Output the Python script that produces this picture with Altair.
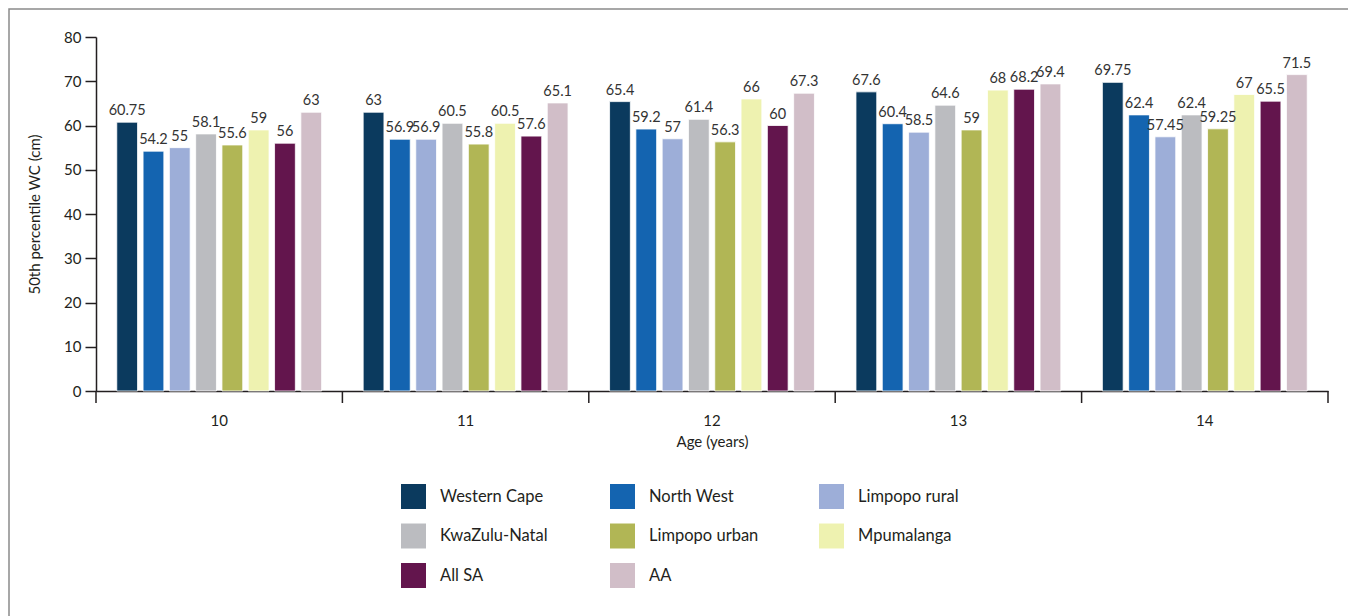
import altair as alt
import pandas as pd

ages = ["10", "11", "12", "13", "14"]
series = ["Western Cape", "North West", "Limpopo rural", "KwaZulu-Natal",
          "Limpopo urban", "Mpumalanga", "All SA", "AA"]
colors = ["#0b3a5e", "#1464b0", "#9daed8", "#bbbcc0",
          "#b1b655", "#eef2b0", "#63154d", "#d1bec8"]

western_cape = [60.75, 63, 65.4, 67.6, 69.75]
north_west = [54.2, 56.9, 59.2, 60.4, 62.4]
limpopo_rural = [55, 56.9, 57, 58.5, 57.45]
kwazulu_natal = [58.1, 60.5, 61.4, 64.6, 62.4]
limpopo_urban = [55.6, 55.8, 56.3, 59, 59.25]
mpumalanga = [59, 60.5, 66, 68, 67]
all_sa = [56, 57.6, 60, 68.2, 65.5]
aa = [63, 65.1, 67.3, 69.4, 71.5]

values = [western_cape, north_west, limpopo_rural, kwazulu_natal,
          limpopo_urban, mpumalanga, all_sa, aa]

rows = []
for s, vals in zip(series, values):
    for a, v in zip(ages, vals):
        rows.append({"age": a, "series": s, "value": v, "label": f"{v:g}"})
df = pd.DataFrame(rows)

W, H = 1232, 354
FONT = "Lato"
INK = "#231f20"

xscale = alt.Scale(domain=ages, paddingInner=0, paddingOuter=0)
offscale = alt.Scale(domain=series, paddingInner=0.21, paddingOuter=0.79)

base = alt.Chart(df)

bars = base.mark_bar(stroke="white", strokeWidth=0.8).encode(
    x=alt.X("age:N", scale=xscale, sort=ages,
            axis=alt.Axis(title="Age (years)", labelAngle=0, ticks=False,
                          labelPadding=22, labelFontSize=15, labelColor=INK,
                          titleFontSize=15, titleColor=INK, titleFontWeight="normal",
                          titlePadding=6, domainColor=INK, domainWidth=1.5)),
    xOffset=alt.XOffset("series:N", scale=offscale, sort=series),
    y=alt.Y("value:Q", scale=alt.Scale(domain=[0, 80], nice=False),
            axis=alt.Axis(title="50th percentile WC (cm)", values=list(range(0, 81, 10)),
                          grid=False, tickSize=11, tickColor=INK, tickWidth=1.5,
                          domainColor=INK, domainWidth=1.5, labelFontSize=15,
                          labelColor=INK, labelPadding=4, titleFontSize=15,
                          titleColor=INK, titleFontWeight="normal", titlePadding=21)),
    color=alt.Color("series:N", scale=alt.Scale(domain=series, range=colors),
                    sort=series,
                    legend=alt.Legend(title=None, orient="none", legendX=305, legendY=447,
                                      direction="horizontal",
                                      columns=3, symbolType="square", symbolSize=625,
                                      symbolStrokeWidth=0, labelFontSize=16.5,
                                      labelColor=INK, labelOffset=14, rowPadding=14.5,
                                      columnPadding=60, gridAlign="all", padding=0)),
)

labels = base.mark_text(baseline="bottom", dy=-4, fontSize=14.5, color="#333333").encode(
    x=alt.X("age:N", scale=xscale, sort=ages),
    xOffset=alt.XOffset("series:N", scale=offscale, sort=series),
    y=alt.Y("value:Q"),
    text="label:N",
)

tickdf = pd.DataFrame({"age": ages})
ticks = alt.Chart(tickdf).mark_rule(color=INK, strokeWidth=1.5).encode(
    x=alt.X("age:N", scale=xscale, sort=ages, bandPosition=0),
    y=alt.value(H),
    y2=alt.value(H + 12),
)
endtick = alt.Chart(pd.DataFrame({"a": [0]})).mark_rule(color=INK, strokeWidth=1.5).encode(
    x=alt.value(W), y=alt.value(H), y2=alt.value(H + 12),
)

frame = alt.Chart(pd.DataFrame({"a": [0]})).mark_rect(
    fill=None, stroke="#8a8a8a", strokeWidth=1.5
).encode(
    x=alt.value(-87), x2=alt.value(1255), y=alt.value(-28), y2=alt.value(H + 260),
)

chart = alt.layer(frame, bars, labels, ticks, endtick).properties(
    width=W, height=H,
    autosize=alt.AutoSizeParams(type="none"),
    padding={"left": 88, "top": 29, "right": 20, "bottom": 225},
).configure(font=FONT).configure_view(stroke=None)

chart.save("out.html", embed_options={"renderer": "svg", "actions": False})
